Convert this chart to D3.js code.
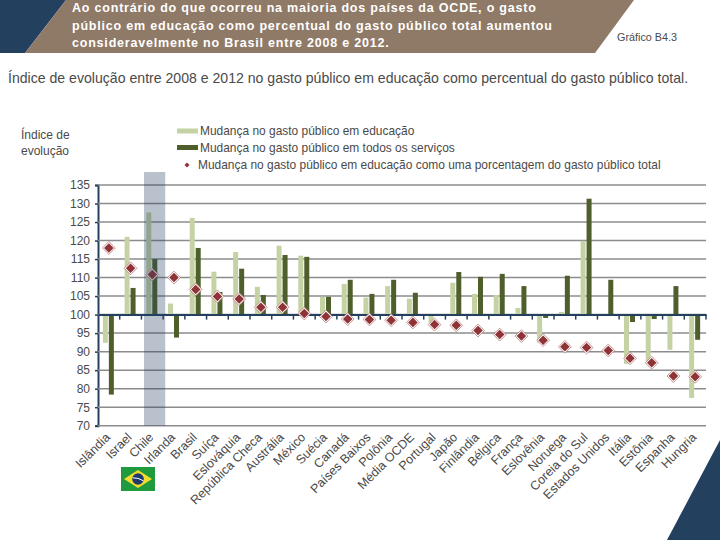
<!DOCTYPE html>
<html lang="pt-BR">
<head>
<meta charset="utf-8">
<script src="https://cdn.jsdelivr.net/npm/d3@7"></script>
<style>
  html, body { margin: 0; padding: 0; background: #fff; }
  svg { display: block; }
  text { font-family: "Liberation Sans", Arial, sans-serif; }
</style>
</head>
<body>
<svg id="chart"></svg>
<script>
const countries = ["Islândia", "Israel", "Chile", "Irlanda", "Brasil", "Suíça", "Eslováquia", "República Checa", "Austrália", "México", "Suécia", "Canadá", "Países Baixos", "Polônia", "Média OCDE", "Portugal", "Japão", "Finlândia", "Bélgica", "França", "Eslovênia", "Noruega", "Coreia do Sul", "Estados Unidos", "Itália", "Estônia", "Espanha", "Hungria"]
const educacao = [92.4, 121, 127.6, 103, 126.1, 111.6, 116.9, 107.5, 118.6, 115.9, 104.8, 108.3, 104.6, 107.7, 104.3, 97.8, 108.6, 105.6, 105.3, 101.8, 92.4, 100.7, 119.9, 99.7, 86.7, 87.5, 90.5, 77.5]
const servicos = [78.4, 107.2, 115, 93.8, 118, 106.1, 112.4, 105.3, 116.1, 115.6, 104.8, 109.4, 105.6, 109.4, 105.9, 100, 111.5, 110.2, 111, 107.7, 99.1, 110.5, 131.3, 109.4, 98, 98.8, 107.7, 93.2]
const porcentagem = [118, 112.5, 110.8, 110, 106.8, 104.9, 104.2, 102, 102, 100.3, 99.5, 98.8, 98.7, 98.5, 97.9, 97.3, 97.1, 95.7, 94.6, 94.2, 93.1, 91.3, 91.1, 90.3, 88.2, 87, 83.4, 83.2]
const yTicks = [70, 75, 80, 85, 90, 95, 100, 105, 110, 115, 120, 125, 130, 135]
const titleLines = [
  "Ao contrário do que ocorreu na maioria dos países da OCDE, o gasto",
  "público em educação como percentual do gasto público total aumentou",
  "consideravelmente no Brasil entre 2008 e 2012."
]
const legendLabels = [
  "Mudança no gasto público em educação",
  "Mudança no gasto público em todos os serviços",
  "Mudança no gasto público em educação como uma porcentagem do gasto público total"
]

const NAVY = "#24405f"
const BROWN = "#8f7a68"
const LIGHT = "#c5d3a4"
const DARK = "#4f5f2c"
const RED = "#8f3337"
const GRID = "#8c8c8c"
const TEXT = "#4a4a4a"

const svg = d3.select("#chart").attr("width", 720).attr("height", 540)

// cabecalho
svg.append("polygon").attr("points", "0,0 66,0 25,53 0,53").attr("fill", NAVY)
svg.append("polygon").attr("points", "66,0 634,0 595,53 25,53").attr("fill", BROWN)
svg.append("polygon").attr("points", "720,440 720,540 667,540").attr("fill", NAVY)

svg.selectAll(".title").data(titleLines).join("text")
  .attr("class", "title")
  .attr("x", 72)
  .attr("y", (d, i) => 12 + i * 17.7)
  .attr("fill", "#fff")
  .attr("font-size", 12.5)
  .attr("font-weight", "bold")
  .style("letter-spacing", "0.8px")
  .text(d => d)

svg.append("text").attr("x", 617).attr("y", 41)
  .attr("font-size", 10.8).attr("fill", TEXT).text("Gráfico B4.3")

svg.append("text").attr("x", 8).attr("y", 83)
  .attr("font-size", 14.1).attr("fill", TEXT)
  .text("Índice de evolução entre 2008 e 2012 no gasto público em educação como percentual do gasto público total.")

svg.selectAll(".ylabel").data(["Índice de", "evolução"]).join("text")
  .attr("class", "ylabel")
  .attr("x", 21)
  .attr("y", (d, i) => 139 + i * 15.5)
  .attr("font-size", 12)
  .attr("fill", TEXT)
  .text(d => d)

// legenda
svg.append("rect").attr("x", 177).attr("y", 128.5).attr("width", 21).attr("height", 5).attr("fill", LIGHT)
svg.append("rect").attr("x", 177).attr("y", 145).attr("width", 21).attr("height", 5).attr("fill", DARK)
svg.selectAll(".legend").data(legendLabels).join("text")
  .attr("class", "legend")
  .attr("x", (d, i) => i === 2 ? 198 : 200)
  .attr("y", (d, i) => 135 + i * 17)
  .attr("font-size", 11.95)
  .attr("fill", TEXT)
  .text(d => d)

const x = d3.scaleBand().domain(countries).range([98, 706])
const y = d3.scaleLinear().domain([70, 135]).range([425.7, 185])
const cx = d => x(d) + x.bandwidth() / 2
const barW = 5

// grade e eixo y
const yAxis = svg.append("g")
  .attr("transform", "translate(98,0)")
  .call(d3.axisLeft(y).tickValues(yTicks).tickFormat(d3.format("d")).tickSize(3).tickPadding(5))
yAxis.select(".domain").attr("stroke", NAVY).attr("stroke-width", 2)
yAxis.selectAll(".tick line").attr("stroke", NAVY).attr("stroke-width", 1.5)
yAxis.selectAll(".tick text").attr("font-size", 12).attr("fill", TEXT)
  .attr("font-family", '"Liberation Sans", Arial, sans-serif')

svg.append("g").selectAll("line").data(yTicks).join("line")
  .attr("x1", 98).attr("x2", 706)
  .attr("y1", d => y(d)).attr("y2", d => y(d))
  .attr("stroke", GRID).attr("stroke-width", 1.5)

// barras
svg.append("g").selectAll("rect").data(educacao).join("rect")
  .attr("x", (d, i) => cx(countries[i]) - barW - 1)
  .attr("y", d => y(Math.max(d, 100)))
  .attr("width", barW)
  .attr("height", d => Math.abs(y(d) - y(100)))
  .attr("fill", LIGHT)

svg.append("g").selectAll("rect").data(servicos).join("rect")
  .attr("x", (d, i) => cx(countries[i]))
  .attr("y", d => y(Math.max(d, 100)))
  .attr("width", barW)
  .attr("height", d => Math.abs(y(d) - y(100)))
  .attr("fill", DARK)

// eixo x sobre a linha do 100
const xAxis = svg.append("g")
  .attr("transform", `translate(0,${y(100)})`)
  .call(d3.axisBottom(x).tickSize(0).tickFormat(""))
xAxis.select(".domain").attr("stroke", NAVY).attr("stroke-width", 2)
svg.append("g").selectAll("line").data(countries).join("line")
  .attr("x1", d => x(d) + x.bandwidth()).attr("x2", d => x(d) + x.bandwidth())
  .attr("y1", y(100)).attr("y2", y(100) + 5)
  .attr("stroke", NAVY).attr("stroke-width", 1.5)

// losangos
const diamond = s => d3.symbol().type(d3.symbolDiamond2).size(s)()
const markers = svg.append("g").selectAll("g").data(porcentagem).join("g")
  .attr("transform", (d, i) => `translate(${cx(countries[i])},${y(d)})`)
markers.append("path").attr("d", diamond(105)).attr("fill", "#fff").attr("stroke", "#b06a6c").attr("stroke-width", 0.7)
markers.append("path").attr("d", diamond(58)).attr("fill", RED)

svg.append("path")
  .attr("transform", `translate(187,${135 + 2 * 17 - 4})`)
  .attr("d", diamond(16)).attr("fill", RED)

// faixa de destaque
svg.append("rect")
  .attr("x", x("Chile") + 2.6)
  .attr("y", 172)
  .attr("width", x.bandwidth() - 0.5)
  .attr("height", y(70) - 172)
  .attr("fill", NAVY)
  .attr("opacity", 0.32)

// rotulos dos paises
svg.append("g").selectAll("text").data(countries).join("text")
  .attr("transform", d => `translate(${cx(d) + 2},438) rotate(-45)`)
  .attr("text-anchor", "end")
  .attr("font-size", 12.5)
  .attr("fill", TEXT)
  .text(d => d)

// bandeira
const flag = svg.append("g").attr("transform", "translate(121,467)")
flag.append("rect").attr("width", 34).attr("height", 24).attr("fill", "#1f9a3c")
flag.append("polygon").attr("points", "3,12 17,3 31,12 17,21").attr("fill", "#f4dc2c")
flag.append("circle").attr("cx", 17).attr("cy", 12).attr("r", 5.8).attr("fill", "#1c3a6e")
flag.append("path").attr("d", "M11.6,10.8 Q17,10.5 22.4,13.8").attr("fill", "none").attr("stroke", "#fff").attr("stroke-width", 1)
</script>
</body>
</html>
